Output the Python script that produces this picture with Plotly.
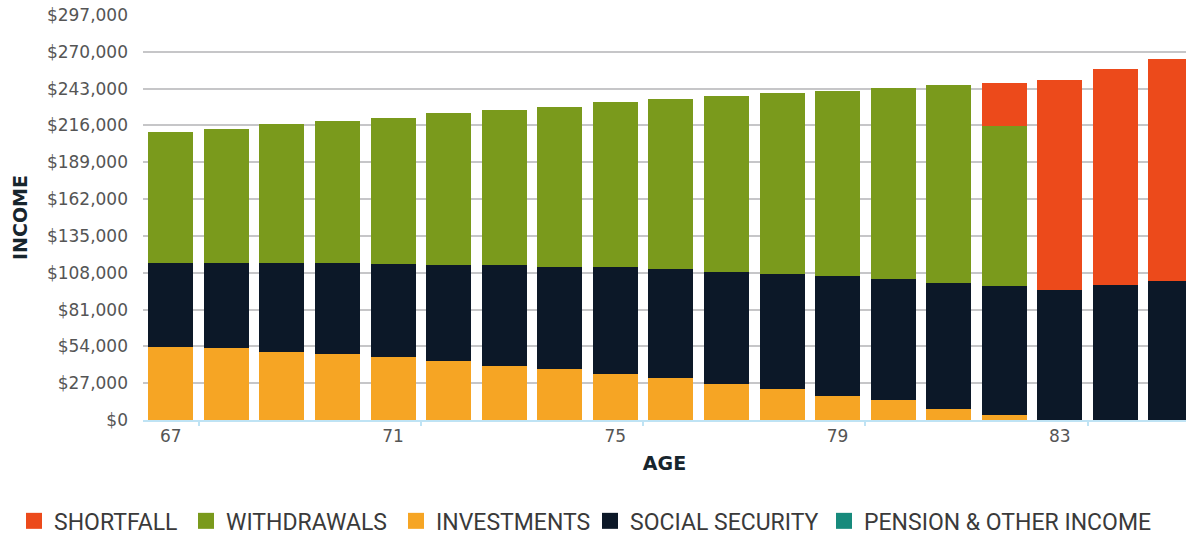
import plotly.graph_objects as go

ages = list(range(67, 86))
investments = [53700, 52500, 50100, 48600, 46000, 43500, 39800, 37200, 33500, 31000,
               26200, 22500, 17800, 14400, 8100, 3700, 0, 0, 0]
social_security = [61200, 62500, 64900, 66200, 68500, 70200, 73700, 74800, 78500, 79500,
                   82600, 84300, 87800, 88800, 92400, 94300, 95600, 99000, 101700]
withdrawals = [96500, 98600, 101800, 104700, 107200, 111800, 113800, 117700, 121000, 124600,
               129000, 133200, 135400, 140000, 144900, 117600, 0, 0, 0]
shortfall = [0, 0, 0, 0, 0, 0, 0, 0, 0, 0, 0, 0, 0, 0, 0, 31300, 153400, 158400, 162800]
pension = [0] * 19

y_ticks = [0, 27000, 54000, 81000, 108000, 135000, 162000, 189000, 216000, 243000, 270000, 297000]
x_ticks = [67, 71, 75, 79, 83]
x_boundary_ticks = [67.5, 71.5, 75.5, 79.5, 83.5]

colors = {
    "SHORTFALL": "#EC4A1B",
    "WITHDRAWALS": "#7A9A1C",
    "INVESTMENTS": "#F6A524",
    "SOCIAL SECURITY": "#0C1828",
    "PENSION & OTHER INCOME": "#178A7C",
}

fig = go.Figure()
stack = [
    ("PENSION & OTHER INCOME", pension),
    ("INVESTMENTS", investments),
    ("SOCIAL SECURITY", social_security),
    ("WITHDRAWALS", withdrawals),
    ("SHORTFALL", shortfall),
]
for name, vals in stack:
    fig.add_trace(go.Bar(x=ages, y=vals, name=name, marker_color=colors[name],
                         marker_line_width=0, showlegend=False, width=0.81))

legend_order = ["SHORTFALL", "WITHDRAWALS", "INVESTMENTS", "SOCIAL SECURITY", "PENSION & OTHER INCOME"]
legend_left_px = [14, 186, 396, 590, 824]
legend_font = dict(size=23, color="#3a3a3a", family="Roboto")
layout_legends = {}
for i, name in enumerate(legend_order):
    lname = "legend" if i == 0 else f"legend{i + 1}"
    fig.add_trace(go.Scatter(x=[None], y=[None], mode="markers", name=name,
                             marker=dict(symbol="square", size=21, color=colors[name]),
                             legend=lname, showlegend=True))
    layout_legends[lname] = dict(orientation="h", xref="container", yref="container",
                                 x=legend_left_px[i] / 1186, xanchor="left",
                                 y=0.03, yanchor="middle", font=legend_font,
                                 bgcolor="rgba(0,0,0,0)", borderwidth=0)

# helper trace on overlay axis for boundary tick marks
fig.add_trace(go.Scatter(x=[None], y=[None], xaxis="x2", showlegend=False))

fig.update_layout(
    width=1186, height=537,
    barmode="stack", bargap=0.19,
    paper_bgcolor="white", plot_bgcolor="white",
    margin=dict(l=143, r=0, t=15, b=117),
    font=dict(family="DejaVu Sans", color="#555555"),
    xaxis=dict(range=[66.5, 85.27], tickvals=x_ticks, ticktext=[str(v) for v in x_ticks],
               showgrid=False, zeroline=False, showline=True, linecolor="#BFE3F4", linewidth=1.5,
               tickfont=dict(size=17, color="#555555"), ticks="",
               title=dict(text="AGE", font=dict(size=19, color="#17252d", family="DejaVu Sans", weight="bold"),
                          standoff=12)),
    xaxis2=dict(range=[66.5, 85.27], overlaying="x", side="bottom", tickvals=x_boundary_ticks,
                showticklabels=False, ticks="outside", ticklen=5, tickcolor="#BFE3F4", tickwidth=1.5,
                showgrid=False, zeroline=False, showline=False),
    yaxis=dict(range=[0, 297000], tickvals=y_ticks,
               ticktext=["$" + format(v, ",") for v in y_ticks],
               showgrid=True, gridcolor="#C6C6C8", gridwidth=1.5, zeroline=False,
               tickfont=dict(size=17, color="#555555"), ticklabelstandoff=14,
               title=dict(text="INCOME", font=dict(size=19, color="#17252d", family="DejaVu Sans", weight="bold"),
                          standoff=14)),
    **layout_legends,
)

fig.write_html("out.html")
